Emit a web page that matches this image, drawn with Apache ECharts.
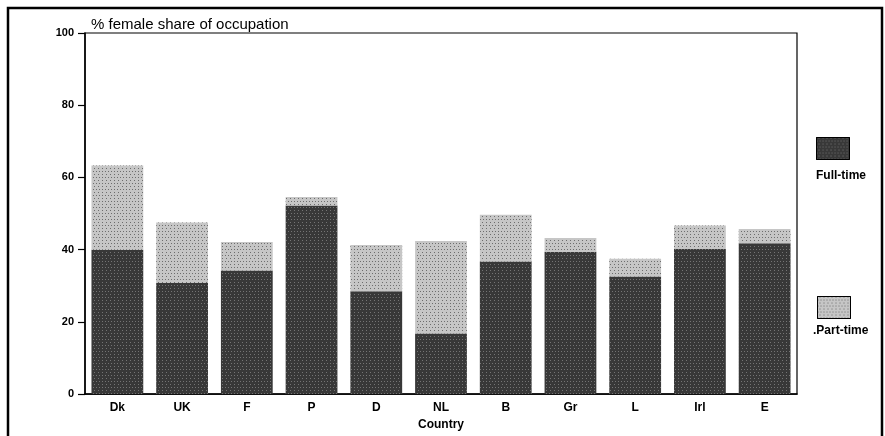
<!DOCTYPE html>
<html>
<head>
<meta charset="utf-8">
<script src="https://cdn.jsdelivr.net/npm/echarts@6/dist/echarts.min.js"></script>
<style>html,body{margin:0;padding:0;background:#fff}#c{width:885px;height:436px}</style>
</head>
<body>
<div id="c"></div>
<script>
const countries = ['Dk','UK','F','P','D','NL','B','Gr','L','Irl','E'];
const fullTime = [40.0, 30.8, 34.2, 52.2, 28.5, 16.8, 36.7, 39.4, 32.6, 40.2, 41.8];
const partTime = [23.3, 16.7, 7.9, 2.4, 12.8, 25.6, 13.0, 3.8, 4.9, 6.5, 3.9];
const yTicks = [0, 20, 40, 60, 80, 100];

const FONT = '"Liberation Sans", Arial, Helvetica, sans-serif';
const darkDecal = {symbol: 'rect', symbolSize: 1, color: 'rgba(255,255,255,0.3)',
  dashArrayX: [[1, 2], [0, 1.5, 1, 0.5]], dashArrayY: [1, 1.5], rotation: 0};
const lightDecal = {symbol: 'rect', symbolSize: 1, color: 'rgba(0,0,0,0.45)',
  dashArrayX: [[1, 2], [0, 1.5, 1, 0.5]], dashArrayY: [1, 1.5], rotation: 0};
const chart = echarts.init(document.getElementById('c'), null, {renderer: 'canvas'});
chart.setOption({
  animation: false,
  textStyle: {fontFamily: FONT},
  title: {
    text: '% female share of occupation',
    left: 86, top: 12,
    textStyle: {fontFamily: FONT, fontSize: 15, fontWeight: 'normal', color: '#000'}
  },
  legend: [
    {data: ['Full-time'], left: 816, top: 137, padding: 0, itemWidth: 33, itemHeight: 22, icon: 'rect',
     formatter: () => '', itemStyle: {borderColor: '#000', borderWidth: 1}},
    {data: ['Part-time'], left: 817, top: 296, padding: 0, itemWidth: 33, itemHeight: 22, icon: 'rect',
     formatter: () => '', itemStyle: {borderColor: '#000', borderWidth: 1}}
  ],
  graphic: [
    {type: 'polyline', shape: {points: [[8, 436], [8, 8], [882, 8], [882, 436]]},
     style: {stroke: '#000', lineWidth: 2.5, fill: null}},
    {type: 'text', left: 816, top: 170, style: {text: 'Full-time', font: 'bold 12px ' + FONT, fill: '#000'}},
    {type: 'text', left: 813, top: 325, style: {text: '.Part-time', font: 'bold 12px ' + FONT, fill: '#000'}}
  ],
  grid: {left: 85, right: 88, top: 33, bottom: 35, show: true, borderColor: '#000', borderWidth: 1.2},
  xAxis: {
    type: 'category', data: countries,
    name: 'Country', nameLocation: 'middle', nameGap: 20,
    nameTextStyle: {fontFamily: FONT, fontSize: 12, fontWeight: 'bold', color: '#000'},
    axisLine: {lineStyle: {color: '#000', width: 1.5}},
    axisTick: {show: false},
    axisLabel: {fontFamily: FONT, fontSize: 12, fontWeight: 'bold', color: '#000', margin: 8}
  },
  yAxis: {
    type: 'value', min: yTicks[0], max: yTicks[yTicks.length - 1], interval: 20,
    axisLine: {show: true, lineStyle: {color: '#000', width: 1.5}},
    axisTick: {show: true, length: 7, lineStyle: {color: '#000', width: 1.2}},
    splitLine: {show: false},
    axisLabel: {fontFamily: FONT, fontSize: 11, fontWeight: 'bold', color: '#000', margin: 11}
  },
  series: [
    {name: 'Full-time', type: 'bar', stack: 's', data: fullTime, barCategoryGap: '20%',
     itemStyle: {color: '#383838', decal: darkDecal}},
    {name: 'Part-time', type: 'bar', stack: 's', data: partTime,
     itemStyle: {color: '#c6c6c6', decal: lightDecal}}
  ]
});
</script>
</body>
</html>
